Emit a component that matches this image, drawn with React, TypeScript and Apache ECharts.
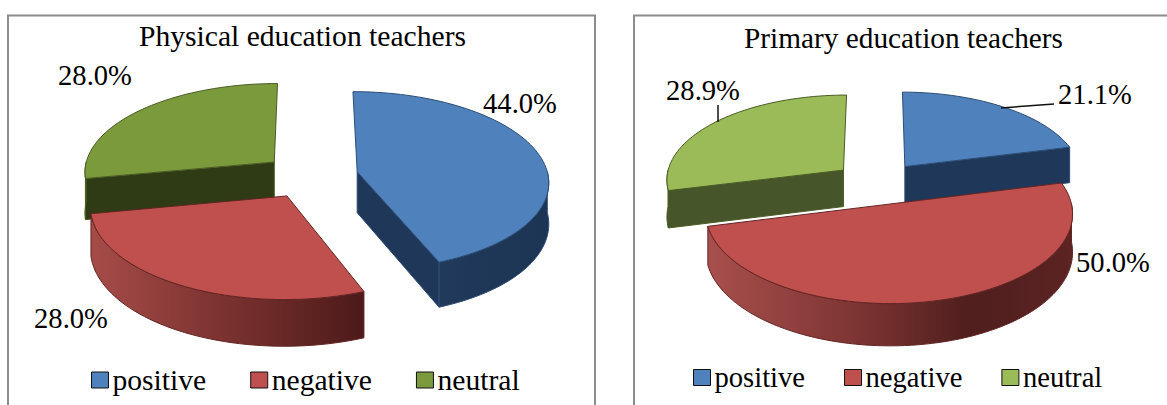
import React, { useEffect, useRef } from "react";
import * as echarts from "echarts";

const categories = ["positive", "negative", "neutral"];
const physicalValues = [44.0, 28.0, 28.0];
const primaryValues = [21.1, 50.0, 28.9];
const chartTitles = ["Physical education teachers", "Primary education teachers"];

const SERIF = '"Liberation Serif", "Times New Roman", serif';
const LABEL_FS = 28.6;

type Pie = {
  values: number[]; title: string; cx: number; cy: number; rx: number; ry: number;
  depth: number; titleX: number; titleY: number; titleFs: number; legendFs: number;
  legendX: number; legendGap: number; legendY: number;
  top: string[]; edge: string[]; cut: string[]; wall: any[];
  labels: number[][]; leaders: number[][][];
  order: number[];
};
const P = 0.1, EXPLODE = 0.25;
const grad = (stops: [number, string][]) => ({
  type: "linear", x: 0, y: 0, x2: 1, y2: 0,
  colorStops: stops.map(([offset, color]) => ({ offset, color })),
});
const pies: Pie[] = [
  {
    values: physicalValues, title: chartTitles[0], cx: 310.5, cy: 176, rx: 191, ry: 89, depth: 41,
    titleX: 297.5, titleY: 37, titleFs: 29.6, legendFs: 29.6,
    legendX: 91, legendGap: 44, legendY: 365,
    top: ["#4F81BD", "#C0504D", "#7B9A3C"],
    edge: ["#2C4D75", "#632524", "#4A5C24"],
    cut: ["#1F3859", "#5A1F1E", "#2E3B14"],
    wall: [
      grad([[0, "#21395A"], [1, "#1C3554"]]),
      grad([[0, "#A64C49"], [0.45, "#7E3431"], [1, "#4C1A19"]]),
      "#2E3B14",
    ],
    labels: [[520, 103], [71, 318], [95, 75]],
    leaders: [[], [], []],
    order: [2, 0, 1],
  },
  {
    values: primaryValues, title: chartTitles[1], cx: 878, cy: 183, rx: 178, ry: 85, depth: 37,
    titleX: 898.5, titleY: 39, titleFs: 29.3, legendFs: 28.6,
    legendX: 693, legendGap: 39, legendY: 363,
    top: ["#4F81BD", "#C0504D", "#9BBB59"],
    edge: ["#2C4D75", "#632524", "#4A5C24"],
    cut: ["#1F3859", "#5A1F1E", "#46562A"],
    wall: [
      grad([[0, "#21395A"], [1, "#1C3554"]]),
      grad([[0, "#A84F4C"], [0.4, "#7E3533"], [0.72, "#4F1E1D"], [1, "#5C2422"]]),
      "#46562A",
    ],
    labels: [[1095, 94], [1113, 262], [703, 90]],
    leaders: [[[1001, 108], [1054, 104]], [], [[718, 122], [718, 105]]],
    order: [2, 0, 1],
  },
];

function sliceChildren(pie: Pie, idx: number) {
  const total = pie.values.reduce((a, b) => a + b, 0);
  const before = pie.values.slice(0, idx).reduce((a, b) => a + b, 0);
  const t0 = (before / total) * 360;
  const t1 = ((before + pie.values[idx]) / total) * 360;
  const rad = Math.PI / 180;
  const mid = ((t0 + t1) / 2) * rad;
  const ox = EXPLODE * Math.sin(mid);
  const oy = -EXPLODE * Math.cos(mid);
  const proj = (gx: number, gy: number, low: boolean) => {
    const w = 1 - P * gy;
    return [pie.cx + (pie.rx * gx) / w, pie.cy + (pie.ry * gy) / w + (low ? pie.depth / w : 0)];
  };
  const rim = (deg: number, low: boolean) =>
    proj(ox + Math.sin(deg * rad), oy - Math.cos(deg * rad), low);
  const apex = (low: boolean) => proj(ox, oy, low);
  const sample = (a: number, b: number) => {
    const out: number[] = [];
    const n = Math.max(2, Math.ceil((b - a) / 2));
    for (let i = 0; i <= n; i++) out.push(a + ((b - a) * i) / n);
    return out;
  };
  const kids: any[] = [];
  const stroke = pie.edge[idx];
  if (Math.sin(t0 * rad) < 0) {
    kids.push({ type: "polygon", shape: { points: [apex(false), rim(t0, false), rim(t0, true), apex(true)] }, style: { fill: pie.cut[idx], stroke, lineWidth: 1 } });
  }
  if (Math.sin(t1 * rad) > 0) {
    kids.push({ type: "polygon", shape: { points: [apex(false), rim(t1, false), rim(t1, true), apex(true)] }, style: { fill: pie.cut[idx], stroke, lineWidth: 1 } });
  }
  const w0 = Math.max(t0, 90), w1 = Math.min(t1, 270);
  if (w1 > w0) {
    const s = sample(w0, w1);
    const pts = s.map((d) => rim(d, false)).concat(s.slice().reverse().map((d) => rim(d, true)));
    kids.push({ type: "polygon", shape: { points: pts }, style: { fill: pie.wall[idx], stroke, lineWidth: 1 } });
  }
  const topPts = [apex(false)].concat(sample(t0, t1).map((d) => rim(d, false)));
  kids.push({ type: "polygon", shape: { points: topPts }, style: { fill: pie.top[idx], stroke, lineWidth: 1 } });
  return kids;
}

function labelChildren(pie: Pie, idx: number) {
  const kids: any[] = [];
  const line = pie.leaders[idx];
  if (line.length) {
    kids.push({ type: "polyline", shape: { points: line }, style: { fill: "none", stroke: "#111", lineWidth: 1.5 } });
  }
  kids.push({
    type: "text",
    style: {
      x: pie.labels[idx][0], y: pie.labels[idx][1], text: pie.values[idx].toFixed(1) + "%",
      fill: "#000", font: `${LABEL_FS}px ${SERIF}`, align: "center", verticalAlign: "middle",
    },
  });
  return kids;
}

function buildOption() {
  const series: any[] = [];
  pies.forEach((pie) => {
    pie.order.forEach((idx) => {
      series.push({
        type: "custom", name: categories[idx], coordinateSystem: "none", silent: true,
        data: [pie.values[idx]], z: 2,
        renderItem: () => ({ type: "group", children: sliceChildren(pie, idx) }),
      });
    });
    pie.order.forEach((idx) => {
      series.push({
        type: "custom", name: categories[idx], coordinateSystem: "none", silent: true,
        data: [pie.values[idx]], z: 3,
        renderItem: () => ({ type: "group", children: labelChildren(pie, idx) }),
      });
    });
  });
  const frame = (l: number, r: number) => ({
    type: "polyline", silent: true, z: 0,
    shape: { points: [[l, 405], [l, 15.5], [r, 15.5], [r, 405]] },
    style: { fill: "none", stroke: "#8C8C8C", lineWidth: 2 },
  });
  return {
    animation: false,
    backgroundColor: "#fff",
    title: pies.map((pie) => ({
      text: pie.title, left: pie.titleX, top: pie.titleY - pie.titleFs * 0.6 - 3, textAlign: "center",
      textStyle: { fontFamily: SERIF, fontSize: pie.titleFs, fontWeight: "normal", color: "#000" },
    })),
    legend: pies.map((pie) => ({
      left: pie.legendX, top: pie.legendY, orient: "horizontal", itemGap: pie.legendGap, padding: 0,
      itemWidth: 17, itemHeight: 16, selectedMode: false,
      textStyle: { fontFamily: SERIF, fontSize: pie.legendFs, color: "#000", padding: [0, 0, 0, -1] },
      data: categories.map((name, i) => ({
        name, icon: "rect",
        itemStyle: { color: pie.top[i], borderColor: "#111", borderWidth: 1 },
      })),
    })),
    graphic: { elements: [frame(8, 595), frame(634, 1200)] },
    series,
  };
}

export default function App() {
  const ref = useRef<HTMLDivElement>(null);
  useEffect(() => {
    const chart = echarts.init(ref.current!, undefined, { renderer: "svg" });
    chart.setOption(buildOption() as any);
    return () => chart.dispose();
  }, []);
  return <div ref={ref} style={{ position: "fixed", left: 0, top: 0, width: 1167, height: 405 }} />;
}
